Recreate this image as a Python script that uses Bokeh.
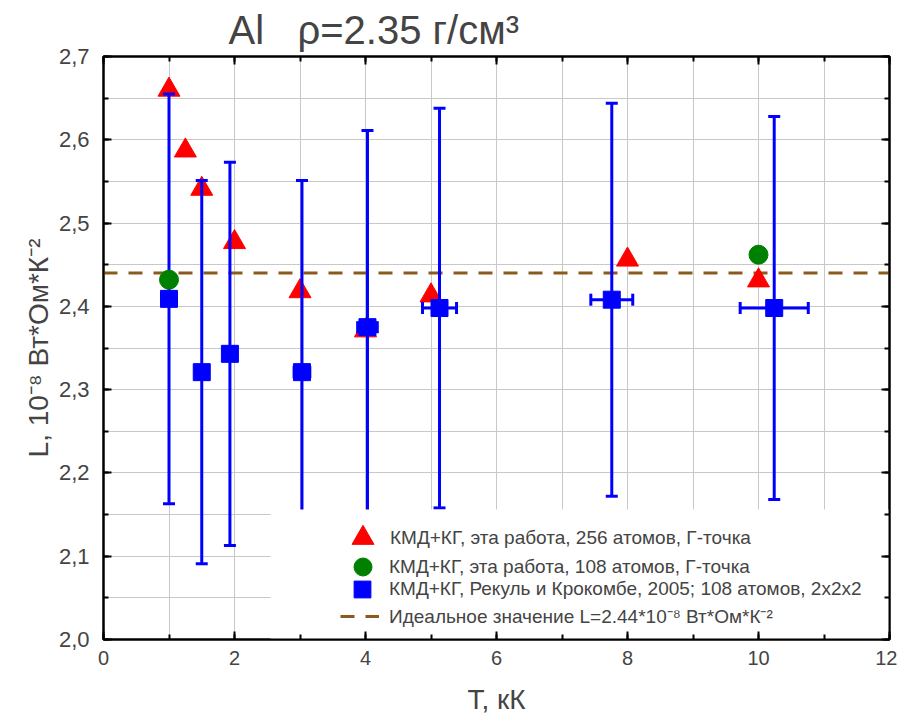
import math
from bokeh.plotting import figure
from bokeh.models import (Range1d, LinearAxis, SingleIntervalTicker, CustomJSTickFormatter,
                          Legend, LegendItem, BoxAnnotation)
from bokeh.embed import file_html
from bokeh.resources import INLINE

# ---------------- data ----------------
X_LIM = [0, 12]
Y_LIM = [2.0, 2.7]

# KMD+KG, this work, 256 atoms, Gamma point
T_256 = [1.0, 1.25, 1.5, 2.0, 3.0, 4.0, 5.0, 8.0, 10.0]
L_256 = [2.660, 2.587, 2.541, 2.477, 2.418, 2.371, 2.413, 2.456, 2.431]

# KMD+KG, this work, 108 atoms, Gamma point
T_108 = [1.0, 10.0]
L_108 = [2.432, 2.462]

# KMD+KG, Recoules & Crocombette 2005, 108 atoms, 2x2x2
T_rc = [1.0, 1.5, 1.93, 3.03, 4.03, 5.13, 7.76, 10.24]
L_rc = [2.409, 2.321, 2.343, 2.321, 2.375, 2.398, 2.408, 2.398]
L_rc_err = [0.246, 0.230, 0.230, 0.230, 0.236, 0.240, 0.236, 0.230]
T_rc_err = [0.0, 0.0, 0.0, 0.12, 0.15, 0.26, 0.32, 0.52]

L_IDEAL = 2.44

labels = [
    "КМД+КГ, эта работа, 256 атомов, Γ-точка",
    "КМД+КГ, эта работа, 108 атомов, Γ-точка",
    "КМД+КГ, Рекуль и Крокомбе, 2005; 108 атомов, 2x2x2",
    "Идеальное значение L=2.44*10⁻⁸ Вт*Ом*К⁻²",
]
TITLE = "Al\u00a0\u00a0\u00a0ρ=2.35 г/см³"
X_LABEL = "T, кК"
Y_LABEL = "L, 10⁻⁸ Вт*Ом*К⁻²"

# ---------------- styles ----------------
FONT = "Liberation Sans"
BLUE = "#0000ff"
RED = "#ff0000"
GREEN = "#008000"
BROWN = "#8b5a1e"
GRID = "#c8c8c8"

p = figure(frame_width=786, frame_height=583,
           x_range=Range1d(*X_LIM), y_range=Range1d(*Y_LIM),
           output_backend="svg", toolbar_location=None,
           min_border_left=103, min_border_right=8, min_border_top=56, min_border_bottom=80,
           background_fill_color="white", border_fill_color="white")

p.title.text = TITLE
p.title.text_font = FONT
p.title.text_font_size = "40px"
p.title.text_font_style = "normal"
p.title.align = "left"
p.title.offset = 125
p.title.standoff = 10

bottom_ax = p.below[0]
left_ax = p.left[0]

xt = SingleIntervalTicker(interval=2, num_minor_ticks=2)
yt = SingleIntervalTicker(interval=0.1, num_minor_ticks=2)
yfmt = CustomJSTickFormatter(code="return tick.toFixed(1).replace('.', ',');")

bottom_ax.ticker = xt
left_ax.ticker = yt
left_ax.formatter = yfmt

top_ax = LinearAxis(ticker=xt)
right_ax = LinearAxis(ticker=yt)
p.add_layout(top_ax, "above")
p.add_layout(right_ax, "right")

for ax in [bottom_ax, left_ax, top_ax, right_ax]:
    ax.major_tick_in = 8
    ax.major_tick_out = 0
    ax.minor_tick_in = 5
    ax.minor_tick_out = 0
    ax.axis_line_width = 2
    ax.major_tick_line_width = 2
    ax.minor_tick_line_width = 2
    ax.axis_line_color = "black"

for ax in [top_ax, right_ax]:
    ax.major_label_text_color = None
    ax.major_label_text_font_size = "1px"
    ax.major_label_standoff = 0

bottom_ax.major_label_text_font = FONT
bottom_ax.major_label_text_font_size = "20px"
bottom_ax.major_label_standoff = 11
bottom_ax.axis_label = X_LABEL
bottom_ax.axis_label_text_font = FONT
bottom_ax.axis_label_text_font_size = "28px"
bottom_ax.axis_label_text_font_style = "normal"
bottom_ax.axis_label_standoff = 16

left_ax.major_label_text_font = FONT
left_ax.major_label_text_font_size = "22px"
left_ax.major_label_standoff = 14
left_ax.axis_label = Y_LABEL
left_ax.axis_label_text_font = FONT
left_ax.axis_label_text_font_size = "28px"
left_ax.axis_label_text_font_style = "normal"
left_ax.axis_label_standoff = 2

p.outline_line_color = "black"
p.outline_line_width = 2

p.xgrid.ticker = xt
p.ygrid.ticker = yt
for g in [p.xgrid[0], p.ygrid[0]]:
    g.grid_line_color = GRID
    g.grid_line_width = 1
    g.minor_grid_line_color = GRID
    g.minor_grid_line_width = 1

# ---------------- glyphs ----------------
r_ideal = p.line(X_LIM, [L_IDEAL, L_IDEAL], line_color=BROWN, line_width=3, line_dash="14 11")

r_tri = p.scatter(T_256, L_256, marker="triangle", size=22, fill_color=RED, line_color=RED)

# vertical error bars
y_lo = [v - e for v, e in zip(L_rc, L_rc_err)]
y_hi = [v + e for v, e in zip(L_rc, L_rc_err)]
p.segment(T_rc, y_lo, T_rc, y_hi, line_color=BLUE, line_width=3)
p.scatter(T_rc + T_rc, y_lo + y_hi, marker="dash", size=12, line_color=BLUE, line_width=3)

r_circ = p.scatter(T_108, L_108, marker="circle", size=19, fill_color=GREEN, line_color=GREEN)

# horizontal error bars
hx = [t for t, e in zip(T_rc, T_rc_err) if e > 0]
hy = [v for v, e in zip(L_rc, T_rc_err) if e > 0]
he = [e for e in T_rc_err if e > 0]
x_lo = [t - e for t, e in zip(hx, he)]
x_hi = [t + e for t, e in zip(hx, he)]
p.segment(x_lo, hy, x_hi, hy, line_color=BLUE, line_width=3)
p.scatter(x_lo + x_hi, hy + hy, marker="dash", angle=math.pi / 2, size=12,
          line_color=BLUE, line_width=3)

r_sq = p.scatter(T_rc, L_rc, marker="square", size=17, fill_color=BLUE, line_color=BLUE)

# white legend background (covers grid & bars like in the original)
legend_bg = BoxAnnotation(left=2.55, top=2.156, fill_color="white", fill_alpha=1.0,
                          line_alpha=0, level="glyph")
p.add_layout(legend_bg)

# ---------------- legends ----------------
def make_legend(renderer, label, loc, gw, gh, standoff):
    lg = Legend(items=[LegendItem(label=label, renderers=[renderer])],
                location=loc, glyph_width=gw, glyph_height=gh, label_height=gh,
                label_standoff=standoff, padding=0, margin=0, spacing=0,
                background_fill_alpha=0, border_line_alpha=0,
                label_text_font=FONT, label_text_font_size="19px")
    p.add_layout(lg)

make_legend(r_tri, labels[0], (232, 74), 55, 55, 0)
make_legend(r_circ, labels[1], (237, 50), 45, 45, 4)
make_legend(r_sq, labels[2], (238, 29), 42, 42, 6)
make_legend(r_ideal, labels[3], (237, 10), 39, 20, 10)

open("out.html", "w").write(file_html(p, INLINE))
